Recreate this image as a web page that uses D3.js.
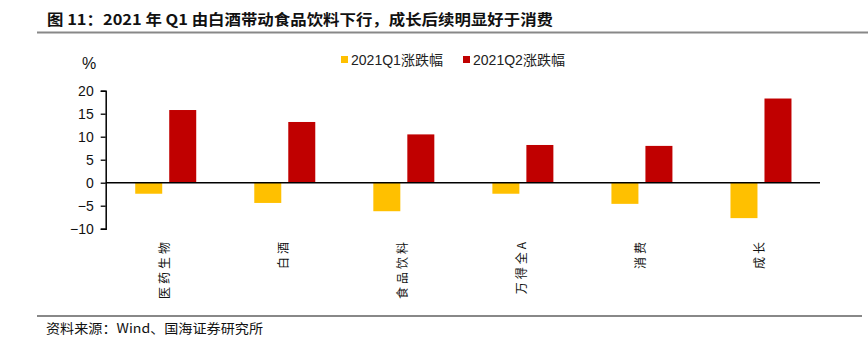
<!DOCTYPE html>
<html><head><meta charset="utf-8">
<script src="https://cdn.jsdelivr.net/npm/d3@7"></script>
<style>
body{margin:0;background:#fff;}
svg{display:block;}
</style></head>
<body>
<svg id="c" width="868" height="342"></svg>
<script>
const categories = ["医药生物","白酒","食品饮料","万得全A","消费","成长"];
const seriesNames = ["2021Q1涨跌幅","2021Q2涨跌幅"];
const q1Values = [-2.4, -4.4, -6.2, -2.4, -4.6, -7.7];
const q2Values = [15.8, 13.2, 10.5, 8.2, 8.0, 18.3];
const yTicks = [-10, -5, 0, 5, 10, 15, 20];
const colors = ["#FFC000", "#C00000"];
const titleText = "图 11：2021 年 Q1 由白酒带动食品饮料下行，成长后续明显好于消费";
const sourceText = "资料来源：Wind、国海证券研究所";

const svg = d3.select("#c");
const cjk = "'Noto Sans CJK SC', sans-serif";
const latin = "'Liberation Sans', Arial, sans-serif";
const mixed = "'Liberation Sans', 'Noto Sans CJK SC', sans-serif";

// Title
svg.append("text").attr("x", 47).attr("y", 25)
  .attr("font-family", cjk).attr("font-weight", 700).attr("font-size", 15)
  .attr("textLength", 506).attr("lengthAdjust", "spacingAndGlyphs")
  .attr("fill", "#111").text(titleText);
svg.append("line").attr("x1", 37).attr("x2", 868).attr("y1", 32.5).attr("y2", 32.5)
  .attr("stroke", "#888").attr("stroke-width", 2);

// Scales
const x0 = d3.scaleBand().domain(categories).range([105.7, 820]).padding(0);
const bw = x0.bandwidth();
const x1 = d3.scaleBand().domain(seriesNames).range([bw/2 - 30, bw/2 + 31]).paddingInner(0.206);
const y = d3.scaleLinear().domain([-10, 20]).range([228.7, 90.7]);

const data = categories.map((c, i) => ({cat: c, vals: [q1Values[i], q2Values[i]]}));

const g = svg.append("g");
const groups = g.selectAll("g.cat").data(data).join("g")
  .attr("transform", d => `translate(${x0(d.cat)},0)`);
groups.selectAll("rect").data(d => d.vals.map((v, k) => ({k, v}))).join("rect")
  .attr("x", d => x1(seriesNames[d.k]))
  .attr("width", x1.bandwidth())
  .attr("y", d => y(Math.max(0, d.v)))
  .attr("height", d => Math.abs(y(d.v) - y(0)))
  .attr("fill", d => colors[d.k]);

// Y axis
const yAxis = d3.axisLeft(y).tickValues(yTicks).tickSize(5).tickPadding(7)
  .tickFormat(d => d < 0 ? "\u2212" + Math.abs(d) : d);
const ya = svg.append("g").attr("transform", "translate(105.7,0)").call(yAxis);
ya.select(".domain").attr("stroke", "#000").attr("stroke-width", 1.5);
ya.selectAll(".tick line").attr("stroke", "#000").attr("stroke-width", 1.3);
ya.selectAll(".tick text").attr("font-family", latin).attr("font-size", 14).attr("fill", "#111");

// zero line
svg.append("line").attr("x1", 105.7).attr("x2", 820).attr("y1", y(0)).attr("y2", y(0))
  .attr("stroke", "#000").attr("stroke-width", 1.5);

// % unit
svg.append("text").attr("x", 89).attr("y", 69).attr("text-anchor", "middle")
  .attr("font-family", latin).attr("font-size", 16).attr("fill", "#111").text("%");

// Category labels (rotated)
svg.append("g").selectAll("text").data(categories).join("text")
  .attr("transform", d => `translate(${x0(d) + bw/2 + 4},239) rotate(-90)`)
  .attr("text-anchor", "end")
  .attr("font-family", cjk).attr("font-size", 12).attr("letter-spacing", 3)
  .attr("fill", "#111").text(d => d);

// Legend
const leg = svg.append("g");
const legX = [341, 463];
seriesNames.forEach((s, i) => {
  leg.append("rect").attr("x", legX[i]).attr("y", 56).attr("width", 7).attr("height", 7).attr("fill", colors[i]);
  leg.append("text").attr("x", legX[i] + 10).attr("y", 65)
    .attr("font-family", mixed).attr("font-size", 14).attr("fill", "#222")
    .attr("textLength", 92).attr("lengthAdjust", "spacingAndGlyphs").text(s);
});

// Source
svg.append("line").attr("x1", 37).attr("x2", 862).attr("y1", 316).attr("y2", 316)
  .attr("stroke", "#888").attr("stroke-width", 2);
svg.append("text").attr("x", 46).attr("y", 333)
  .attr("font-family", cjk).attr("font-size", 13).attr("fill", "#111")
  .attr("textLength", 217).attr("lengthAdjust", "spacingAndGlyphs").text(sourceText);
</script>
</body></html>
